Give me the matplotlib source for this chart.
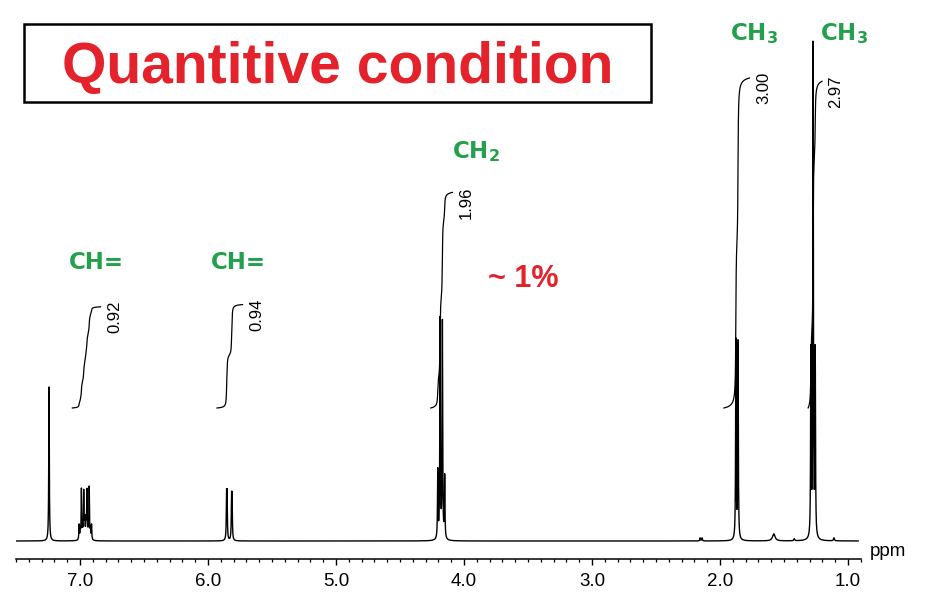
import numpy as np
import matplotlib.pyplot as plt
from matplotlib.patches import Rectangle
from matplotlib.ticker import MultipleLocator, FormatStrFormatter

plt.rcParams['mathtext.fontset'] = 'dejavusans'

# peak list (ppm, height in px above baseline, half width)
peak_ppm = [7.242,
            7.007, 6.998, 6.989, 6.980, 6.971, 6.962, 6.953,
            6.964, 6.955, 6.946, 6.937, 6.928, 6.919, 6.910,
            5.855, 5.851, 5.816, 5.812,
            4.205, 4.187, 4.169, 4.151,
            2.155, 2.140,
            1.876, 1.859,
            1.580, 1.420,
            1.290, 1.273, 1.256,
            1.110]
peak_height = [154,
               15, 10, 50, 10, 47, 10, 12,
               12, 10, 48, 10, 52, 10, 15,
               40, 40, 38, 38,
               68, 219, 216, 62,
               3, 3,
               199, 197,
               7, 2,
               185, 492, 185,
               3]
peak_width = [0.0025,
              0.0024, 0.0024, 0.0024, 0.0024, 0.0024, 0.0024, 0.0024,
              0.0024, 0.0024, 0.0024, 0.0024, 0.0024, 0.0024, 0.0024,
              0.0025, 0.0025, 0.0025, 0.0025,
              0.0025, 0.0025, 0.0025, 0.0025,
              0.003, 0.003,
              0.0025, 0.0025,
              0.012, 0.004,
              0.0025, 0.0025, 0.0025,
              0.004]

# integrals
int_labels = ['0.92', '0.94', '1.96', '3.00', '2.97']
int_values = [0.92, 0.94, 1.96, 3.00, 2.97]
int_left = [7.06, 5.93, 4.26, 1.97, 1.312]
int_right = [6.84, 5.73, 4.09, 1.77, 1.203]

ticks_major = [7.0, 6.0, 5.0, 4.0, 3.0, 2.0, 1.0]

green = '#22A04B'
red = '#E3222B'

ppm = np.arange(7.5, 0.92, -0.0005)
spec = np.zeros_like(ppm)
for p0, h, w in zip(peak_ppm, peak_height, peak_width):
    spec += h / (1 + ((ppm - p0) / w) ** 2)

fig = plt.figure(figsize=(9.42, 6.04), dpi=100)
ax = fig.add_axes([16 / 942, 45 / 604, 844.8 / 942, 559 / 604])
ax.set_xlim(7.5, 0.9)
ax.set_ylim(-18, 541)

ax.plot(ppm, spec, color='black', lw=1.0)

def px(x, y):
    # picture pixel -> data coords
    return 7.0 - (x - 80) / 128, 541 - y

base = 133
per_h = 110
for lab, val, a, b in zip(int_labels, int_values, int_left, int_right):
    m = (ppm <= a) & (ppm >= b)
    cs = np.cumsum(spec[m])
    cs = cs / cs[-1] * val * per_h + base
    ax.plot(ppm[m], cs, color='black', lw=0.9)
    ax.text(b - 14 / 128, cs[-1] + 6, lab, rotation=90, ha='center', va='top',
            fontsize=12, family='Liberation Sans')

for s in ['top', 'right', 'left']:
    ax.spines[s].set_visible(False)
ax.spines['bottom'].set_linewidth(1.1)
ax.set_yticks([])
ax.set_xticks(ticks_major)
ax.xaxis.set_major_formatter(FormatStrFormatter('%.1f'))
ax.xaxis.set_minor_locator(MultipleLocator(0.1))
ax.tick_params(axis='x', which='major', length=4.5, width=1, pad=5.5,
               labelsize=13.5)
ax.tick_params(axis='x', which='minor', length=2.3, width=0.9)
for t in ax.get_xticklabels():
    t.set_family('Liberation Sans')
ax.patch.set_visible(False)

fig.text(870 / 942, 1 - 551 / 604, 'ppm', ha='left', va='center',
         fontsize=13.5, family='Liberation Sans')

# group labels
ax.text(*px(96, 269), 'CH=', ha='center', va='baseline', fontsize=16.5,
        weight='bold', color=green)
ax.text(*px(238, 269), 'CH=', ha='center', va='baseline', fontsize=16.5,
        weight='bold', color=green)
ax.text(*px(476, 158), r'$\mathbf{CH_2}$', ha='center', va='baseline',
        fontsize=16.5, color=green)
ax.text(*px(754, 40), r'$\mathbf{CH_3}$', ha='center', va='baseline',
        fontsize=16.5, color=green)
ax.text(*px(844, 40), r'$\mathbf{CH_3}$', ha='center', va='baseline',
        fontsize=16.5, color=green)

ax.text(*px(523, 287), '~ 1%', ha='center', va='baseline', fontsize=22,
        weight='bold', family='Liberation Sans', color=red)

# title box
fig.add_artist(Rectangle((24 / 942, 1 - 102 / 604), 627 / 942, 78 / 604,
                         transform=fig.transFigure, fill=False, lw=1.8,
                         ec='black'))
fig.text(338 / 942, 1 - 83 / 604, 'Quantitive condition', ha='center',
         va='baseline', fontsize=41, weight='bold', family='Liberation Sans',
         color=red)

fig.savefig('out.png', dpi=100)
